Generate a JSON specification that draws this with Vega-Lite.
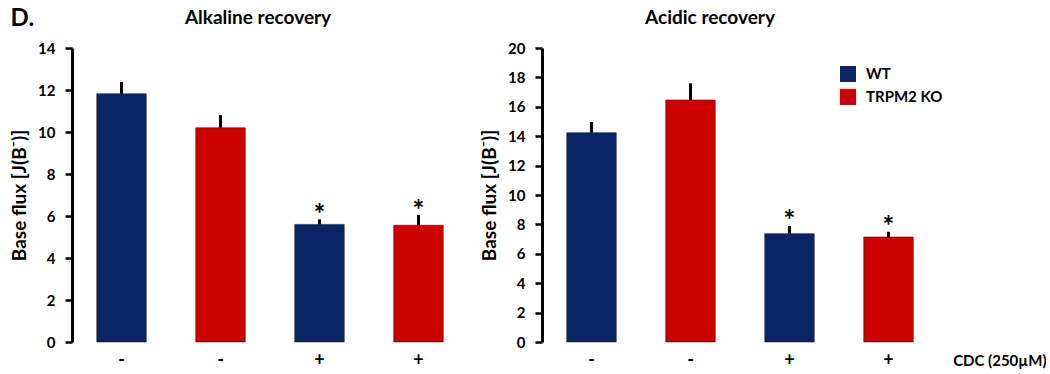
{
  "$schema": "https://vega.github.io/schema/vega-lite/v6.json",
  "background": "white",
  "padding": {"left": 10, "top": 7, "right": 0, "bottom": 0},
  "spacing": 12,
  "title": {"text": "    D.", "anchor": "start", "frame": "bounds", "offset": -22, "fontSize": 24},
  "config": {
    "font": "Lato",
    "view": {"stroke": null},
    "axis": {"grid": false, "labelFont": "Lato", "titleFont": "Lato", "labelColor": "black", "titleColor": "black"},
    "title": {"font": "Lato", "fontSize": 19, "fontWeight": "bold", "color": "black"}
  },
  "datasets": {
    "alk": [
      {"id": "WT -", "group": "WT", "value": 11.82, "err": 12.38, "sig": ""},
      {"id": "KO -", "group": "TRPM2 KO", "value": 10.2, "err": 10.8, "sig": ""},
      {"id": "WT +", "group": "WT", "value": 5.6, "err": 5.84, "sig": "*"},
      {"id": "KO +", "group": "TRPM2 KO", "value": 5.56, "err": 6.05, "sig": "*"}
    ],
    "acid": [
      {"id": "WT -", "group": "WT", "value": 14.24, "err": 14.97, "sig": ""},
      {"id": "KO -", "group": "TRPM2 KO", "value": 16.46, "err": 17.6, "sig": ""},
      {"id": "WT +", "group": "WT", "value": 7.37, "err": 7.89, "sig": "*"},
      {"id": "KO +", "group": "TRPM2 KO", "value": 7.14, "err": 7.5, "sig": "*"}
    ]
  },
  "resolve": {"scale": {"color": "independent", "y": "independent"}},
  "hconcat": [
    {
      "width": 396,
      "height": 294,
      "title": {"text": "Alkaline recovery", "dx": -12, "offset": 13},
      "data": {"name": "alk"},
      "encoding": {
        "x": {"field": "id", "type": "nominal", "sort": null,
          "scale": {"paddingInner": 0.5, "paddingOuter": 0.25},
          "axis": {"title": null, "domain": false, "ticks": false, "labelAngle": 0, "labelFontSize": 18, "labelFontWeight": "bold", "labelPadding": 9,
            "labelExpr": "split(datum.value, ' ')[1]"}},
        "y": {"field": "value", "type": "quantitative",
          "scale": {"domain": [0, 14], "nice": false},
          "axis": {"title": "Base flux [J(B⁻)]", "titleFontSize": 19, "titleFontWeight": "bold", "titlePadding": 8,
            "values": [0, 2, 4, 6, 8, 10, 12, 14], "labelOverlap": false, "labelFontSize": 15, "labelFontWeight": "bold",
            "domainColor": "black", "domainWidth": 3, "tickColor": "black", "tickWidth": 2.5, "tickSize": 7, "labelPadding": 10}}
      },
      "layer": [
        {
          "mark": {"type": "bar", "stroke": "#1a1a1a", "strokeOpacity": 0.55, "strokeWidth": 1},
          "encoding": {
            "color": {"field": "group", "type": "nominal",
              "scale": {"domain": ["WT", "TRPM2 KO"], "range": ["#0b2466", "#cc0000"]}, "legend": null}
          }
        },
        {
          "mark": {"type": "rule", "color": "black", "strokeWidth": 3},
          "encoding": {"y2": {"field": "err"}}
        },
        {
          "mark": {"type": "text", "fontSize": 28, "fontWeight": "bold", "color": "black", "dy": 5, "baseline": "alphabetic"},
          "encoding": {
            "y": {"field": "err", "type": "quantitative",
              "axis": {"title": "Base flux [J(B⁻)]", "titleFontSize": 19, "titleFontWeight": "bold", "titlePadding": 8,
                "values": [0, 2, 4, 6, 8, 10, 12, 14], "labelOverlap": false, "labelFontSize": 15, "labelFontWeight": "bold",
                "domainColor": "black", "domainWidth": 3, "tickColor": "black", "tickWidth": 2.5, "tickSize": 7, "labelPadding": 10}},
            "text": {"field": "sig"}}
        }
      ]
    },
    {
      "width": 396,
      "height": 294,
      "title": {"text": "Acidic recovery", "dx": -30, "offset": 13},
      "data": {"name": "acid"},
      "encoding": {
        "x": {"field": "id", "type": "nominal", "sort": null,
          "scale": {"paddingInner": 0.5, "paddingOuter": 0.25},
          "axis": {"title": "CDC (250µM)", "titleFontSize": 15, "titleFontWeight": "bold", "titleX": 504, "titleY": 18, "titleAlign": "right", "titleBaseline": "middle",
            "domain": false, "ticks": false, "labelAngle": 0, "labelFontSize": 18, "labelFontWeight": "bold", "labelPadding": 9,
            "labelExpr": "split(datum.value, ' ')[1]"}},
        "y": {"field": "value", "type": "quantitative",
          "scale": {"domain": [0, 20], "nice": false},
          "axis": {"title": "Base flux [J(B⁻)]", "titleFontSize": 19, "titleFontWeight": "bold", "titlePadding": 8,
            "values": [0, 2, 4, 6, 8, 10, 12, 14, 16, 18, 20], "labelOverlap": false, "labelFontSize": 15, "labelFontWeight": "bold",
            "domainColor": "black", "domainWidth": 3, "tickColor": "black", "tickWidth": 2.5, "tickSize": 7, "labelPadding": 10}}
      },
      "layer": [
        {
          "mark": {"type": "bar", "stroke": "#1a1a1a", "strokeOpacity": 0.55, "strokeWidth": 1},
          "encoding": {
            "color": {"field": "group", "type": "nominal",
              "scale": {"domain": ["WT", "TRPM2 KO"], "range": ["#0b2466", "#cc0000"]},
              "legend": {"title": null, "orient": "none", "legendX": 298, "legendY": 18, "symbolType": "square", "symbolSize": 256,
                "symbolStrokeWidth": 0, "labelFontSize": 15, "labelFontWeight": "bold", "labelFont": "Lato", "labelColor": "black", "rowPadding": 7, "labelOffset": 10}}
          }
        },
        {
          "mark": {"type": "rule", "color": "black", "strokeWidth": 3},
          "encoding": {"y2": {"field": "err"}}
        },
        {
          "mark": {"type": "text", "fontSize": 28, "fontWeight": "bold", "color": "black", "dy": 4, "baseline": "alphabetic"},
          "encoding": {
            "y": {"field": "err", "type": "quantitative",
              "axis": {"title": "Base flux [J(B⁻)]", "titleFontSize": 19, "titleFontWeight": "bold", "titlePadding": 8,
                "values": [0, 2, 4, 6, 8, 10, 12, 14, 16, 18, 20], "labelOverlap": false, "labelFontSize": 15, "labelFontWeight": "bold",
                "domainColor": "black", "domainWidth": 3, "tickColor": "black", "tickWidth": 2.5, "tickSize": 7, "labelPadding": 10}},
            "text": {"field": "sig"}}
        }
      ]
    }
  ]
}
